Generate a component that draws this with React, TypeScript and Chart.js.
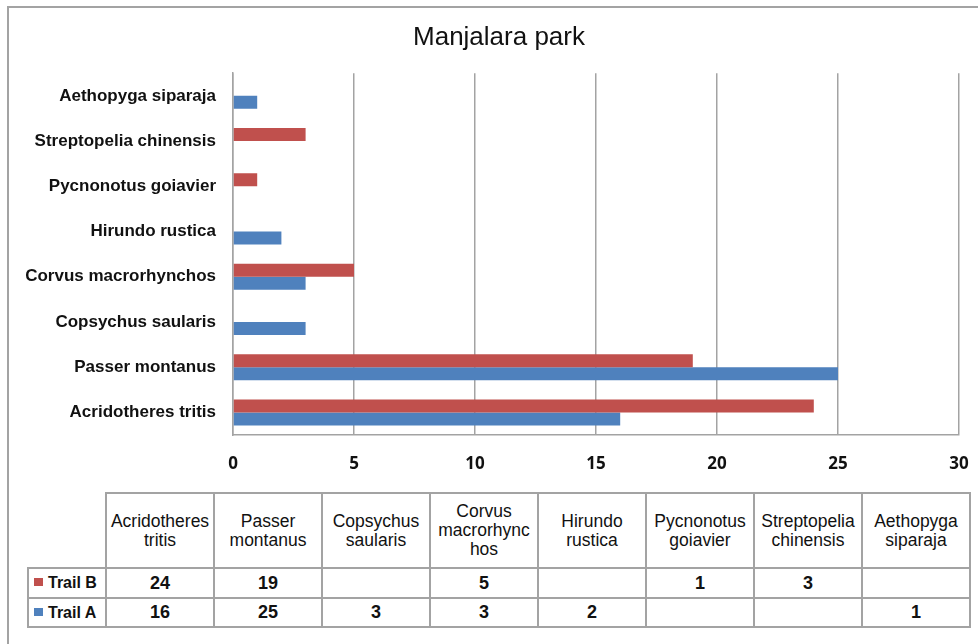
import React, { useEffect, useRef } from "react";
import { Chart, registerables } from "chart.js";

Chart.register(...registerables);

const chartTitle = "Manjalara park";
const categories = [
  "Acridotheres tritis",
  "Passer montanus",
  "Copsychus saularis",
  "Corvus macrorhynchos",
  "Hirundo rustica",
  "Pycnonotus goiavier",
  "Streptopelia chinensis",
  "Aethopyga siparaja",
];
const trailB: (number | null)[] = [24, 19, null, 5, null, 1, 3, null];
const trailA: (number | null)[] = [16, 25, 3, 3, 2, null, null, 1];
const xTicks = [0, 5, 10, 15, 20, 25, 30];
const seriesNames = ["Trail B", "Trail A"];
const seriesColors = ["#C0504D", "#4F81BD"];

const gridColor = "#a3a3a3";

// lets the category labels use the room left of the layout padding
const labelRoom = {
  id: "labelRoom",
  afterLayout(chart: any) {
    const y = chart.scales.y;
    if (y) y.left = 0;
  },
};

export default function App() {
  const ref = useRef<HTMLCanvasElement | null>(null);

  useEffect(() => {
    if (!ref.current) return;
    const labels = categories.slice().reverse();
    const chart = new Chart(ref.current, {
      type: "bar",
      data: {
        labels,
        datasets: [
          {
            label: seriesNames[0],
            data: trailB.slice().reverse(),
            backgroundColor: seriesColors[0],
            barPercentage: 1,
            categoryPercentage: 0.575,
          },
          {
            label: seriesNames[1],
            data: trailA.slice().reverse(),
            backgroundColor: seriesColors[1],
            barPercentage: 1,
            categoryPercentage: 0.575,
          },
        ],
      },
      plugins: [labelRoom],
      options: {
        indexAxis: "y",
        animation: false,
        responsive: false,
        layout: { padding: { left: 39, right: 19, top: 0, bottom: 0 } },
        plugins: {
          legend: { display: false },
          tooltip: { enabled: false },
          title: {
            display: true,
            text: chartTitle,
            color: "#111",
            font: { family: "Liberation Sans", size: 26, weight: "normal" },
            padding: { top: 22, bottom: 20 },
          },
        },
        scales: {
          x: {
            min: xTicks[0],
            max: xTicks[xTicks.length - 1],
            afterBuildTicks: (s: any) => {
              s.ticks = xTicks.map((v) => ({ value: v }));
            },
            grid: { color: gridColor, lineWidth: 1.5, drawTicks: false },
            border: { display: true, color: gridColor, width: 1.5 },
            ticks: {
              padding: 19,
              color: "#111",
              font: { family: "Open Sans", weight: "bold", size: 17 },
            },
            afterFit: (s: any) => {
              s.height = 45;
              s.paddingLeft = 0;
              s.paddingRight = 0;
            },
          },
          y: {
            grid: { display: false, drawTicks: false },
            border: { display: true, color: gridColor, width: 1.5 },
            ticks: {
              padding: 17,
              color: "#111",
              font: { family: "Liberation Sans", weight: "bold", size: 17 },
            },
            afterFit: (s: any) => {
              s.width = 194;
            },
          },
        },
      },
    });
    return () => chart.destroy();
  }, []);

  const cellBorder = `2px solid ${gridColor}`;
  const headCell: React.CSSProperties = {
    border: cellBorder,
    width: 108,
    boxSizing: "border-box",
    padding: "0 3px",
    textAlign: "center",
    verticalAlign: "middle",
    fontFamily: "Liberation Sans, Arial, sans-serif",
    fontSize: 17.5,
    lineHeight: "19px",
    color: "#111",
    overflowWrap: "anywhere",
  };
  const valCell: React.CSSProperties = {
    border: cellBorder,
    textAlign: "center",
    verticalAlign: "middle",
    fontFamily: "Liberation Sans, Arial, sans-serif",
    fontSize: 18,
    fontWeight: "bold",
    color: "#111",
    padding: 0,
  };
  const labelCell: React.CSSProperties = {
    border: cellBorder,
    fontFamily: "Liberation Sans, Arial, sans-serif",
    fontSize: 16,
    fontWeight: "bold",
    color: "#111",
    padding: "0 0 0 5px",
    whiteSpace: "nowrap",
    textAlign: "left",
  };
  const rows = [trailB, trailA];

  return (
    <div
      style={{
        position: "fixed",
        left: 0,
        top: 0,
        width: 978,
        height: 644,
        overflow: "hidden",
        background: "#fff",
      }}
    >
      <div
        style={{
          position: "absolute",
          left: 7,
          top: 6,
          width: 1000,
          height: 700,
          border: `2px solid ${gridColor}`,
        }}
      />
      <canvas
        ref={ref}
        width={978}
        height={480}
        style={{ position: "absolute", left: 0, top: 0, width: 978, height: 480, display: "block" }}
      />
      <table
        style={{
          position: "absolute",
          left: 27,
          top: 492,
          borderCollapse: "collapse",
          tableLayout: "fixed",
          width: 942,
        }}
      >
        <colgroup>
          <col style={{ width: 78 }} />
          {categories.map((c) => (
            <col key={c} style={{ width: 108 }} />
          ))}
        </colgroup>
        <tbody>
          <tr style={{ height: 75 }}>
            <td style={{ borderRight: cellBorder, borderBottom: cellBorder, padding: 0 }} />
            {categories.map((c) => (
              <td key={c} style={headCell}>
                {c}
              </td>
            ))}
          </tr>
          {rows.map((row, ri) => (
            <tr key={ri} style={{ height: ri === 0 ? 30 : 29 }}>
              <td style={labelCell}>
                <span
                  style={{
                    display: "inline-block",
                    width: 9,
                    height: 8,
                    background: seriesColors[ri],
                    marginRight: 5,
                    verticalAlign: "2px",
                  }}
                />
                {seriesNames[ri]}
              </td>
              {row.map((v, ci) => (
                <td key={ci} style={valCell}>
                  {v === null ? "" : v}
                </td>
              ))}
            </tr>
          ))}
        </tbody>
      </table>
    </div>
  );
}
